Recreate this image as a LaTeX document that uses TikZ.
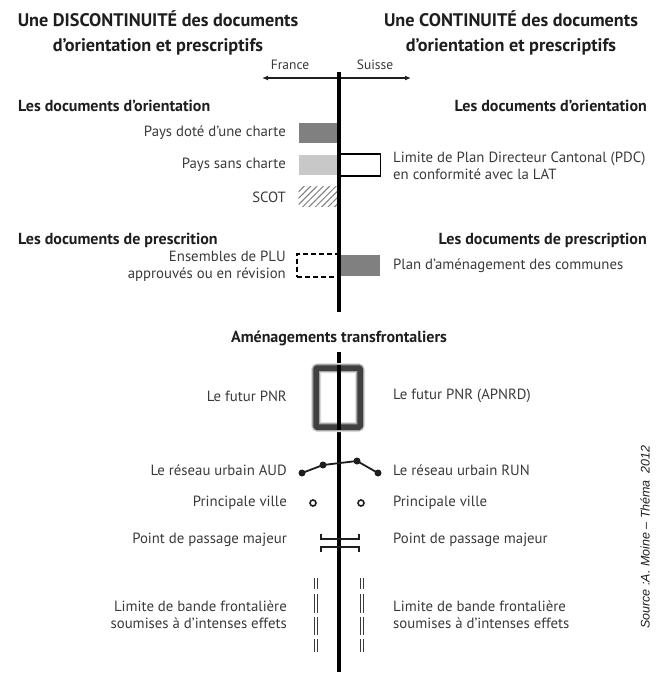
\documentclass[tikz,border=0pt]{standalone}
\usepackage{fontspec}
\setmainfont{PT Sans}
\newfontfamily\srcfont{Liberation Sans}
\usetikzlibrary{arrows.meta,patterns.meta,positioning}
\definecolor{frInk}{HTML}{1E1E1E}
\definecolor{frText}{HTML}{3A3A3A}
\definecolor{frDark}{HTML}{808080}
\definecolor{frLight}{HTML}{C8C8C8}
\definecolor{frHatch}{HTML}{7A7A7A}
\tikzset{
  ttl/.style      ={font=\fontsize{18.2}{25}\selectfont\bfseries,text=frInk,
                    align=center,inner sep=0pt},
  head/.style     ={font=\fontsize{16}{18}\selectfont\bfseries,text=frInk,inner sep=0pt},
  lblL/.style     ={font=\fontsize{14.8}{17.5}\selectfont,text=frText,inner sep=0pt,
                    anchor=east,align=right},
  lblR/.style     ={font=\fontsize{14.8}{17.5}\selectfont,text=frText,inner sep=0pt,
                    anchor=west,align=left},
  side/.style     ={font=\fontsize{13.5}{15}\selectfont,text=frText,inner sep=0pt},
  swatch/.style   ={minimum width=39pt,minimum height=20pt,inner sep=0pt},
  border/.style   ={line width=4.2pt,black},
  twoway/.style   ={{Latex[length=6pt,width=5pt]}-{Latex[length=6pt,width=5pt]},
                    frInk,line width=1.2pt},
  symb/.style     ={frInk,line width=1.8pt},
  bande/.style    ={frText,line width=1.5pt,double=white,double distance=1.4pt},
}
\begin{document}
\begin{tikzpicture}[x=1pt,y=-1pt]
\useasboundingbox (0,0) rectangle (663,675);

%% titles
\node[ttl] (titleFR) at (158,33) {Une DISCONTINUITÉ des documents\\d’orientation et prescriptifs};
\node[ttl] (titleCH) at (511,33) {Une CONTINUITÉ des documents\\d’orientation et prescriptifs};

%% France / Suisse
\coordinate (fr) at (262,78);
\coordinate (ch) at (411,78);
\draw[twoway] (fr) -- (ch);
\node[side] (france) at (290,65) {France};
\node[side] (suisse) at (375,65) {Suisse};

%% documents d'orientation
\node[head,anchor=west] (orFR) at (18,106) {Les documents d’orientation};
\node[head,anchor=east] (orCH) at (647,106) {Les documents d’orientation};

\node[swatch,fill=frDark] (charte) at (318,133) {};
\node[swatch,fill=frLight] (sans) at (318,165) {};
\node[swatch,pattern={Lines[angle=45,distance=4.5pt,line width=1pt]},
      pattern color=frHatch] (scot) at (318,196.5) {};
\node[lblL] at (286,133) {Pays doté d’une charte};
\node[lblL] at (286,165) {Pays sans charte};
\node[lblL] at (286,197) {SCOT};

\node[swatch,draw=black,line width=1.3pt,fill=white,minimum width=41pt,minimum height=22pt]
  (pdc) at (360,165) {};
\node[lblR] at (393,166) {Limite de Plan Directeur Cantonal (PDC)\\en conformité avec la LAT};

%% documents de prescription
\node[head,anchor=west] (prFR) at (18,240) {Les documents de prescrition};
\node[head,anchor=east] (prCH) at (647,240) {Les documents de prescription};

\node[swatch,draw=black,line width=1.3pt,dash pattern=on 5pt off 3pt,
      minimum width=42pt,minimum height=23pt] (plu) at (318,265.5) {};
\node[lblL] at (286,266) {Ensembles de PLU\\approuvés ou en révision};

\node[swatch,fill=frDark,minimum width=40pt,minimum height=21pt] (plan) at (360,265.5) {};
\node[lblR] at (393,266) {Plan d’aménagement des communes};

%% the border
\coordinate (top) at (339,72);
\coordinate (cutA) at (339,312);
\coordinate (cutB) at (339,352);
\coordinate (bot) at (339,672);
\draw[border] (top) -- (cutA);
\draw[border] (cutB) -- (bot);

%% amenagements transfrontaliers
\node[head] (amen) at (339,338) {Aménagements transfrontaliers};

% PNR, blurred frame
\draw[black!12,line width=10pt,rounded corners=2pt] (316,368) rectangle (360,427);
\draw[black!35,line width=8pt,rounded corners=2pt] (316,368) rectangle (360,427);
\draw[black!75,line width=5.5pt,rounded corners=1pt] (316,368) rectangle (360,427);
\draw[border] (339,365) -- (339,430);
\node[lblL] at (287,396) {Le futur PNR};
\node[lblR] at (393,396) {Le futur PNR (APNRD)};

% reseau urbain
\coordinate (r1) at (302,473);
\coordinate (r2) at (323,465);
\coordinate (r3) at (357,461);
\coordinate (r4) at (378,473);
\draw[symb] (r1) -- (r2) -- (r3) -- (r4);
\foreach \r in {r1,r2,r3,r4} { \fill[frInk] (\r) circle (3.5pt); }
\node[lblL] at (287,470) {Le réseau urbain AUD};
\node[lblR] at (393,470) {Le réseau urbain RUN};

% principale ville
\draw[frInk,line width=1.6pt] (313,503) circle (3pt);
\draw[frInk,line width=1.6pt] (361,503) circle (3pt);
\node[lblL] at (287,503) {Principale ville};
\node[lblR] at (393,503) {Principale ville};

% point de passage
\draw[symb] (321,534) -- (321,539) -- (359,539) -- (359,534);
\draw[symb] (321,552) -- (321,547) -- (359,547) -- (359,552);
\node[lblL] at (287,540) {Point de passage majeur};
\node[lblR] at (393,540) {Point de passage majeur};

% bande frontaliere
\foreach \x in {316,362} {
  \foreach \a/\b in {578/589,594/613,617/635,639/652} {
    \draw[bande] (\x,\a) -- (\x,\b);
  }
}
\node[lblL] at (287,615) {Limite de bande frontalière\\soumises à d’intenses effets};
\node[lblR] at (393,615) {Limite de bande frontalière\\soumises à d’intenses effets};

%% source
\node[font=\srcfont\itshape\fontsize{12.5}{14}\selectfont,text=frInk,rotate=90,inner sep=0pt]
  (source) at (645,537) {Source :A. Moine – Théma \ 2012};
\end{tikzpicture}
\end{document}
